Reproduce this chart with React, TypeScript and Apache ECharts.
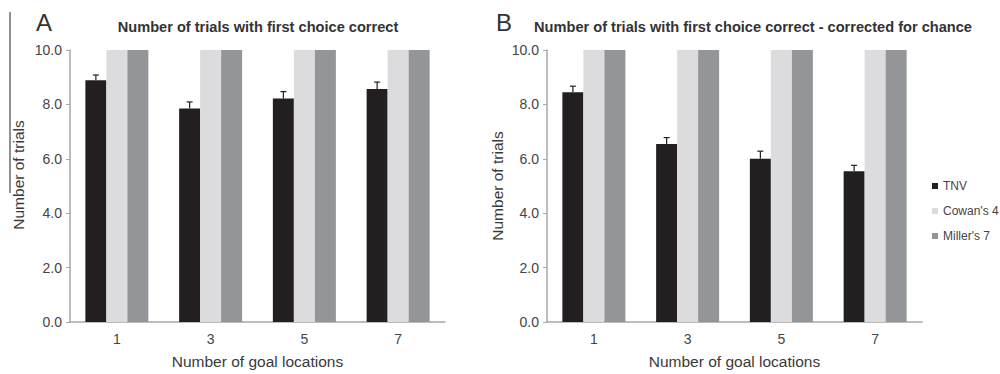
import React, { useEffect, useRef } from "react";
import * as echarts from "echarts";

const categories = ["1", "3", "5", "7"];
const tnvA = [8.89, 7.85, 8.22, 8.57];
const errA = [0.19, 0.24, 0.25, 0.25];
const tnvB = [8.45, 6.54, 6.0, 5.54];
const errB = [0.22, 0.24, 0.28, 0.22];
const cowan = [10, 10, 10, 10];
const miller = [10, 10, 10, 10];
const yTicks = { min: 0, max: 10, interval: 2 };

const FONT = "Arial, Helvetica, sans-serif";
const BAR_W = 0.224;

function errSeries(xi: number, vals: number[], errs: number[]) {
  return {
    type: "custom",
    xAxisIndex: xi,
    yAxisIndex: xi,
    silent: true,
    z: 5,
    data: vals.map((v, i) => [i, v, v + errs[i]]),
    renderItem: (params: any, api: any) => {
      const band = api.size([1, 0])[0];
      const off = -BAR_W * band;
      const bot = api.coord([api.value(0), api.value(1)]);
      const top = api.coord([api.value(0), api.value(2)]);
      const x = bot[0] + off;
      return {
        type: "group",
        children: [
          { type: "line", shape: { x1: x, y1: bot[1], x2: x, y2: top[1] }, style: { stroke: "#231f20", lineWidth: 1.2 } },
          { type: "line", shape: { x1: x - 3, y1: top[1], x2: x + 3, y2: top[1] }, style: { stroke: "#231f20", lineWidth: 1.2 } },
        ],
      };
    },
  };
}

function barSeries(name: string, data: number[], color: string, xi: number) {
  return {
    name,
    type: "bar",
    xAxisIndex: xi,
    yAxisIndex: xi,
    data,
    barWidth: BAR_W * 100 + "%",
    barGap: "0%",
    itemStyle: { color },
  };
}

const axisColor = "#a7a7a7";
const labelColor = "#444";

function xAxis(gi: number) {
  return {
    type: "category",
    gridIndex: gi,
    data: categories,
    axisLine: { lineStyle: { color: axisColor, width: 1.5 } },
    axisTick: { length: 4, lineStyle: { color: axisColor } },
    axisLabel: { color: labelColor, fontSize: 14, fontFamily: FONT, margin: 10 },
    name: "Number of goal locations",
    nameLocation: "middle",
    nameGap: 31,
    nameTextStyle: { color: "#3a3a3a", fontSize: 15.5, fontFamily: FONT },
  };
}

function yAxis(gi: number) {
  return {
    type: "value",
    gridIndex: gi,
    min: yTicks.min,
    max: yTicks.max,
    interval: yTicks.interval,
    splitLine: { show: false },
    axisLine: { show: true, lineStyle: { color: axisColor, width: 1.5 } },
    axisTick: { show: true, length: 4, lineStyle: { color: axisColor } },
    axisLabel: { color: labelColor, fontSize: 14, fontFamily: FONT, margin: 8, formatter: (v: number) => v.toFixed(1) },
  };
}

export default function App() {
  const ref = useRef<HTMLDivElement>(null);
  useEffect(() => {
    if (!ref.current) return;
    const chart = echarts.init(ref.current, null, { renderer: "svg" });
    chart.setOption({
      animation: false,
      backgroundColor: "#fff",
      textStyle: { fontFamily: FONT },
      grid: [
        { left: 70, right: 555, top: 50, bottom: 51 },
        { left: 547, right: 78, top: 50, bottom: 51 },
      ],
      xAxis: [xAxis(0), xAxis(1)],
      yAxis: [yAxis(0), yAxis(1)],
      legend: {
        data: ["TNV", "Cowan's 4", "Miller's 7"],
        orient: "vertical",
        left: 927,
        top: 175,
        itemWidth: 6,
        itemHeight: 6,
        itemGap: 13,
        icon: "rect",
        textStyle: { color: "#444", fontSize: 12, fontFamily: FONT },
      },
      graphic: [
        { type: "line", shape: { x1: 10, y1: 12, x2: 10, y2: 193 }, style: { stroke: "#222", lineWidth: 1 } },
        { type: "text", x: 36, y: 22, style: { text: "A", font: "24px " + FONT, fill: "#333", verticalAlign: "middle" } },
        { type: "text", x: 496, y: 22, style: { text: "B", font: "24px " + FONT, fill: "#333", verticalAlign: "middle" } },
        { type: "text", x: 258, y: 27, style: { text: "Number of trials with first choice correct", font: "bold 14.6px " + FONT, fill: "#333", align: "center", verticalAlign: "middle" } },
        { type: "text", x: 753, y: 27, style: { text: "Number of trials with first choice correct - corrected for chance", font: "bold 14.6px " + FONT, fill: "#333", align: "center", verticalAlign: "middle" } },
        { type: "text", x: 18, y: 175, rotation: Math.PI / 2, style: { text: "Number of trials", font: "15.5px " + FONT, fill: "#3a3a3a", align: "center", verticalAlign: "middle" } },
        { type: "text", x: 497, y: 186, rotation: Math.PI / 2, style: { text: "Number of trials", font: "15.5px " + FONT, fill: "#3a3a3a", align: "center", verticalAlign: "middle" } },
      ],
      series: [
        barSeries("TNV", tnvA, "#231f20", 0),
        barSeries("Cowan's 4", cowan, "#dcdcde", 0),
        barSeries("Miller's 7", miller, "#939598", 0),
        errSeries(0, tnvA, errA),
        barSeries("TNV", tnvB, "#231f20", 1),
        barSeries("Cowan's 4", cowan, "#dcdcde", 1),
        barSeries("Miller's 7", miller, "#939598", 1),
        errSeries(1, tnvB, errB),
      ],
    });
    return () => chart.dispose();
  }, []);
  return <div ref={ref} style={{ position: "fixed", left: 0, top: 0, width: 1000, height: 374 }} />;
}
